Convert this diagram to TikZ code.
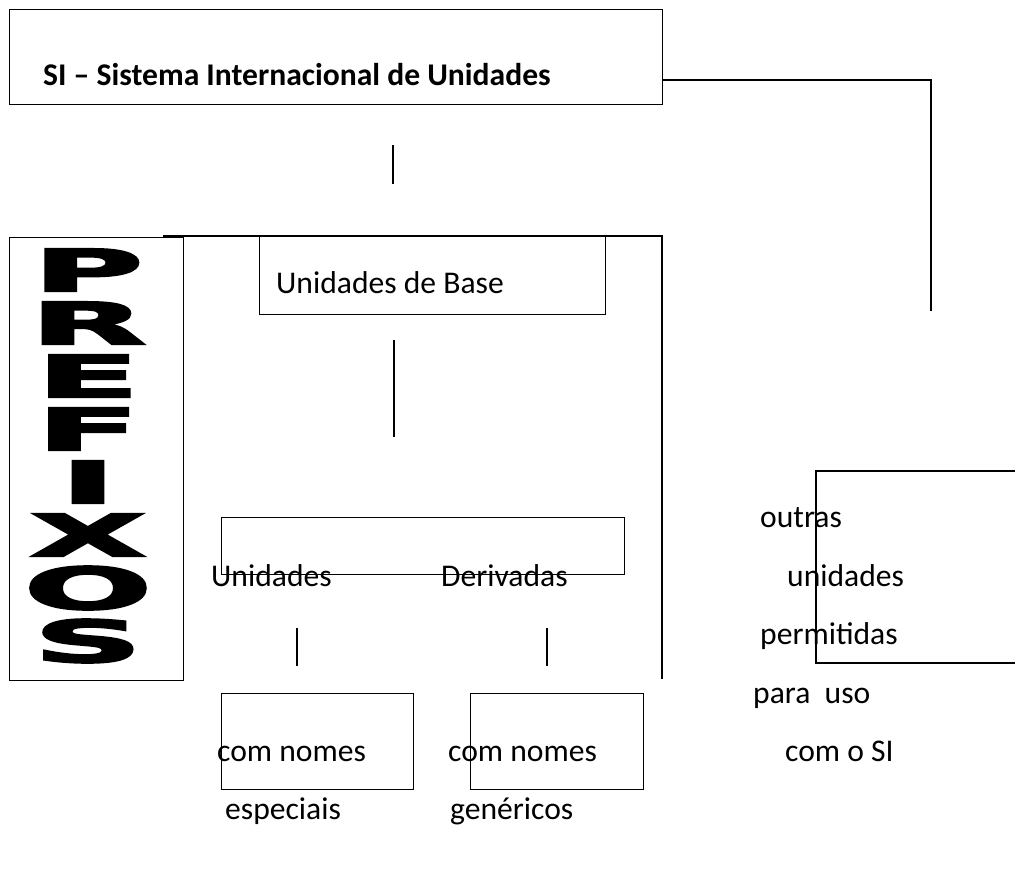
\documentclass[tikz,border=0pt]{standalone}
\usepackage{fontspec}
\usepackage{graphicx}
\setmainfont{Carlito}
\newfontfamily\prefixfont[FakeBold=3]{DejaVu Sans Bold}
\usetikzlibrary{positioning}

\tikzset{
  caixa/.style={draw, line width=1.4pt, rectangle, inner sep=0pt, anchor=north west},
  texto/.style={inner sep=0pt, anchor=base west, font=\fontsize{31.6}{38}\selectfont},
  letra/.style={inner sep=0pt, font=\prefixfont\fontsize{58}{58}\selectfont},
  ligacao/.style={line width=1.4pt},
}

\begin{document}
\begin{tikzpicture}[x=1pt,y=-1pt]
          \useasboundingbox (0,0) rectangle (1015,876);

          % caixa do SI
          \node[caixa, minimum width=653pt, minimum height=95pt] (sibox) at (9,9) {};
          \node[texto, font=\bfseries\fontsize{31.6}{38}\selectfont] (si) at (43,85) {SI – Sistema Internacional de Unidades};

          \coordinate (siout) at (662,80);
          \coordinate (canto) at (931,80);
          \coordinate (outrasin) at (931,311);
          \draw[ligacao] (siout) -- (canto) -- (outrasin);

          \coordinate (traco1) at (393,145);
          \coordinate (traco2) at (393,184);
          \draw[ligacao] (traco1) -- (traco2);

          % PREFIXOS
          \node[caixa, minimum width=174pt, minimum height=443pt] (prefbox) at (9,237) {};
          \foreach \l [count=\i from 0] in {P,R,E,F,I,X,O,S}
            \node[letra] (pref\i) at (88,270+53*\i) {\scalebox{2.6}[1]{\l}};

          % moldura
          \coordinate (mold1) at (163,236);
          \coordinate (mold2) at (662,236);
          \coordinate (mold3) at (662,679);
          \draw[ligacao] (mold1) -- (mold2) -- (mold3);

          % unidades de base
          \node[caixa, minimum width=346pt, minimum height=78pt] (basebox) at (259,236) {};
          \node[texto] (base) at (276,293) {Unidades de Base};
          \coordinate (base1) at (394,340);
          \coordinate (base2) at (394,437);
          \draw[ligacao] (base1) -- (base2);

          % unidades derivadas
          \node[caixa, minimum width=403pt, minimum height=57pt] (derivbox) at (221,517) {};
          \node[texto] (unid) at (211,586) {Unidades};
          \node[texto] (deriv) at (441,586) {Derivadas};
          \coordinate (esp1) at (297,628);
          \coordinate (esp2) at (297,666);
          \coordinate (gen1) at (547,628);
          \coordinate (gen2) at (547,666);
          \draw[ligacao] (esp1) -- (esp2);
          \draw[ligacao] (gen1) -- (gen2);

          \node[caixa, minimum width=192pt, minimum height=96pt] (espbox) at (221,693) {};
          \node[texto] (espnome) at (217,761) {com nomes};
          \node[texto] (esp) at (225,819) {especiais};

          \node[caixa, minimum width=173pt, minimum height=96pt] (genbox) at (470,693) {};
          \node[texto] (gennome) at (448,761) {com nomes};
          \node[texto] (gen) at (450,819) {genéricos};

          % outras unidades
          \coordinate (out1) at (1015,471);
          \coordinate (out2) at (816,471);
          \coordinate (out3) at (816,663);
          \coordinate (out4) at (1015,663);
          \draw[ligacao] (out1) -- (out2) -- (out3) -- (out4);
          \node[texto] (outras) at (760,527) {outras};
          \node[texto] (unidades) at (787,586) {unidades};
          \node[texto] (perm) at (760,644) {permitidas};
          \node[texto] (uso) at (753,703) {para\ \ uso};
          \node[texto] (comsi) at (785,761) {com o SI};
        \end{tikzpicture}
\end{document}
